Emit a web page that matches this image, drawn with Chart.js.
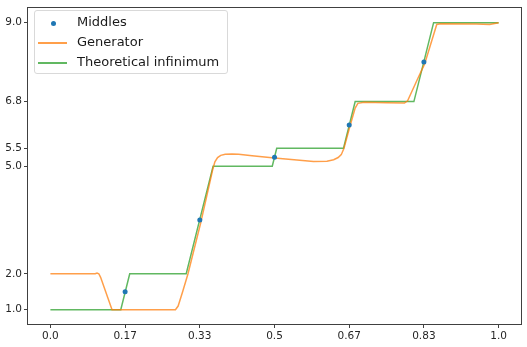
<!DOCTYPE html>
<html>
<head>
<meta charset="utf-8">
<script src="https://cdn.jsdelivr.net/npm/chart.js@4/dist/chart.umd.min.js"></script>
<style>
    html, body { margin: 0; padding: 0; background: #ffffff; }
    #wrap { position: relative; width: 527px; height: 347px; }
    #legend {
        position: absolute; left: 34px; top: 10px; width: 192px; height: 62px;
        border: 1px solid #d9d9d9; border-radius: 3px; background: rgba(255,255,255,0.8);
        font-family: "DejaVu Sans", sans-serif; font-size: 13px; color: #1a1a1a;
    }
    .legend-row { position: absolute; left: 0; height: 20px; line-height: 20px; white-space: nowrap; }
    .legend-row span { position: absolute; left: 42px; top: 0; }
    .handle-line { position: absolute; left: 3px; top: 10px; width: 29px; height: 2px; }
    .handle-dot { position: absolute; left: 16px; top: 9px; width: 5px; height: 5px; border-radius: 50%; background: #1f77b4; }
</style>
</head>
<body>
<div id="wrap">
    <canvas id="chart" width="527" height="347"></canvas>
    <div id="legend">
        <div class="legend-row" style="top:1px"><div class="handle-dot"></div><span>Middles</span></div>
        <div class="legend-row" style="top:21px"><div class="handle-line" style="background:rgba(255,127,14,0.75)"></div><span>Generator</span></div>
        <div class="legend-row" style="top:41px"><div class="handle-line" style="background:rgba(44,160,44,0.75)"></div><span>Theoretical infinimum</span></div>
    </div>
</div>
<script>
const xTicks = [0, 0.1667, 0.3333, 0.5, 0.6667, 0.8333, 1];
const xTickLabels = ['0.0', '0.17', '0.33', '0.5', '0.67', '0.83', '1.0'];
const yTicks = [1.0, 2.0, 5.0, 5.5, 6.8, 9.0];

const middleX = [0.1667, 0.3333, 0.5, 0.6667, 0.8333];
const middleY = [1.5, 3.5, 5.25, 6.15, 7.9];

const generatorX = [0, 0.05, 0.1, 0.104, 0.108, 0.112, 0.1375, 0.2, 0.25, 0.279, 0.285, 0.295, 0.307, 0.335, 0.362, 0.367, 0.373, 0.38, 0.39, 0.405, 0.42, 0.45, 0.5, 0.55, 0.587, 0.617, 0.632, 0.642, 0.649, 0.655, 0.668, 0.68, 0.686, 0.7, 0.75, 0.79, 0.797, 0.82, 0.835, 0.862, 0.87, 0.95, 0.98, 1.0];
const generatorY = [2.0, 2.0, 2.0, 2.02, 2.0, 1.9, 1.0, 1.0, 1.0, 1.0, 1.1, 1.5, 2.0, 3.4, 4.9, 5.12, 5.24, 5.3, 5.33, 5.34, 5.33, 5.29, 5.23, 5.17, 5.13, 5.14, 5.18, 5.24, 5.32, 5.5, 6.1, 6.62, 6.75, 6.78, 6.77, 6.76, 6.82, 7.45, 7.85, 8.95, 8.97, 8.96, 8.95, 9.0];

const infimumX = [0, 0.157, 0.177, 0.303, 0.363, 0.495, 0.505, 0.654, 0.68, 0.811, 0.855, 1.0];
const infimumY = [1.0, 1.0, 2.0, 2.0, 5.0, 5.0, 5.5, 5.5, 6.8, 6.8, 9.0, 9.0];

const toPoints = (xs, ys) => xs.map((x, i) => ({ x: x, y: ys[i] }));

const framePlugin = {
    id: 'frame',
    afterDraw(chart) {
        const a = chart.chartArea;
        const ctx = chart.ctx;
        ctx.save();
        ctx.strokeStyle = '#404040';
        ctx.lineWidth = 1;
        ctx.strokeRect(Math.round(a.left) - 0.5, Math.round(a.top) - 0.5, Math.round(a.right - a.left) + 1, Math.round(a.bottom - a.top) + 1);
        ctx.restore();
    }
};

const tickFont = { family: 'DejaVu Sans', size: 10.5 };

new Chart(document.getElementById('chart'), {
    type: 'line',
    data: {
        datasets: [{
            label: 'Middles',
            data: toPoints(middleX, middleY),
            showLine: false,
            pointRadius: 2.5,
            pointBorderWidth: 0,
            pointBackgroundColor: '#1f77b4',
            borderColor: '#1f77b4'
        }, {
            label: 'Generator',
            data: toPoints(generatorX, generatorY),
            borderColor: 'rgba(255,127,14,0.75)',
            borderWidth: 1.5,
            pointRadius: 0,
            tension: 0
        }, {
            label: 'Theoretical infinimum',
            data: toPoints(infimumX, infimumY),
            borderColor: 'rgba(44,160,44,0.75)',
            borderWidth: 1.5,
            pointRadius: 0,
            tension: 0
        }]
    },
    options: {
        responsive: false,
        animation: false,
        layout: { padding: { left: 0, right: 6, top: 4, bottom: 0 } },
        plugins: { legend: { display: false }, tooltip: { enabled: false } },
        scales: {
            x: {
                type: 'linear',
                min: -0.05,
                max: 1.05,
                afterBuildTicks: axis => { axis.ticks = xTicks.map(v => ({ value: v })); },
                afterFit: axis => { axis.height = 23; },
                ticks: {
                    autoSkip: false,
                    maxRotation: 0,
                    padding: 2,
                    color: '#262626',
                    font: tickFont,
                    callback: (value, index) => xTickLabels[index]
                },
                grid: { drawOnChartArea: false, tickLength: 4, color: '#404040' },
                border: { display: false }
            },
            y: {
                min: 0.6,
                max: 9.4,
                afterBuildTicks: axis => { axis.ticks = yTicks.map(v => ({ value: v })); },
                afterFit: axis => { axis.width = 28; },
                ticks: {
                    autoSkip: false,
                    padding: 2,
                    color: '#262626',
                    font: tickFont,
                    callback: value => value.toFixed(1)
                },
                grid: { drawOnChartArea: false, tickLength: 4, color: '#404040' },
                border: { display: false }
            }
        }
    },
    plugins: [framePlugin]
});
</script>
</body>
</html>
